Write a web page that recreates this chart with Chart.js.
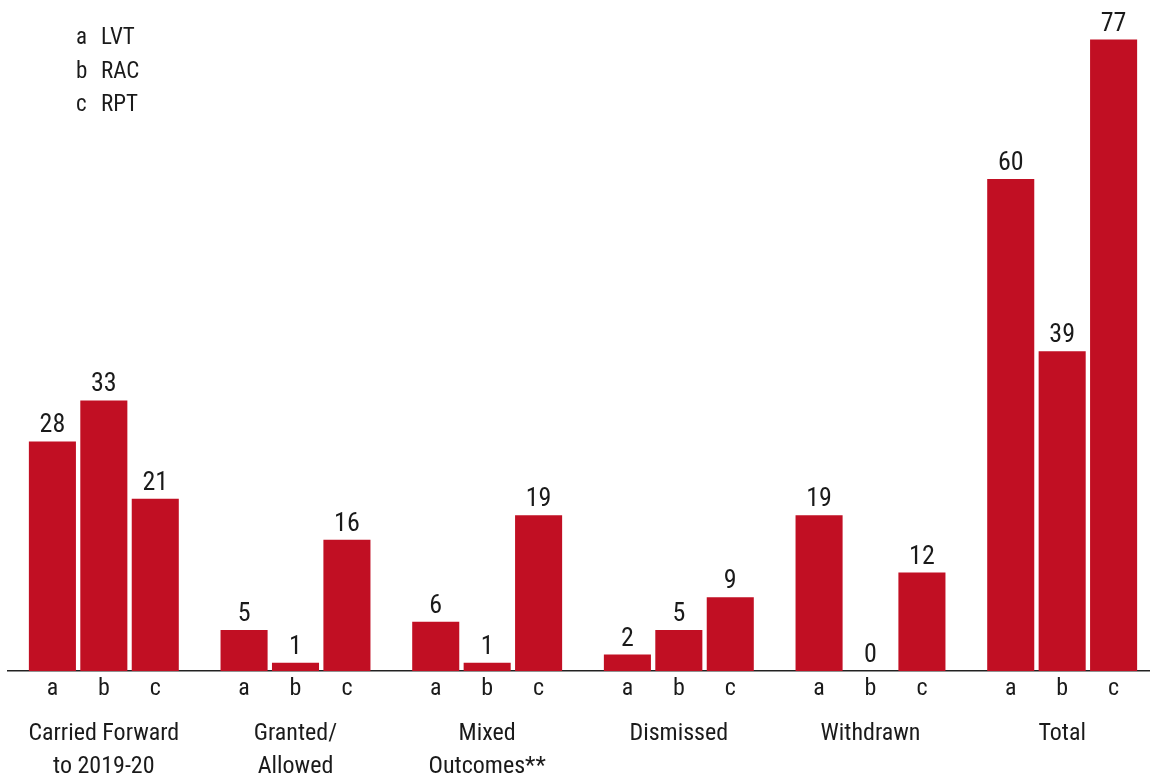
<!DOCTYPE html>
<html>
<head>
<meta charset="utf-8">
<script src="https://cdn.jsdelivr.net/npm/chart.js@4"></script>
<style>
  html, body { margin: 0; padding: 0; background: #fff; }
  #wrap { width: 1150px; height: 781px; position: relative; }
</style>
</head>
<body>
<div id="wrap"><canvas id="casesChart"></canvas></div>
<script>
const categories = [['Carried Forward', 'to 2019-20'], ['Granted/', 'Allowed'], ['Mixed', 'Outcomes**'], 'Dismissed', 'Withdrawn', 'Total'];
const seriesKeys = ['a', 'b', 'c'];
const seriesNames = ['LVT', 'RAC', 'RPT'];
const lvtValues = [28, 5, 6, 2, 19, 60];
const racValues = [33, 1, 1, 5, 0, 39];
const rptValues = [21, 16, 19, 9, 12, 77];

const FONT = '"Roboto Condensed", "DejaVu Sans Condensed", sans-serif';
const INK = '#1a1a1a';
const RED = '#c10f23';

// the x axis in the original runs a little past the right edge of the page
const widenX = {
    id: 'widenX',
    afterLayout(chart) {
        const x = chart.scales.x;
        x.right = chart.width + 8;
        x.width = x.right - x.left;
        x.configure();
    }
};

const barLabels = {
    id: 'barLabels',
    afterDatasetsDraw(chart) {
        const { ctx } = chart;
        const axisY = chart.scales.y.getPixelForValue(0);
        ctx.save();
        ctx.fillStyle = INK;
        ctx.textAlign = 'center';
        ctx.textBaseline = 'alphabetic';
        chart.data.datasets.forEach((ds, i) => {
            chart.getDatasetMeta(i).data.forEach((bar, j) => {
                ctx.font = '26px ' + FONT;
                ctx.fillText(String(ds.data[j]), bar.x, bar.y - 9);
                ctx.font = '24px ' + FONT;
                ctx.fillText(seriesKeys[i], bar.x, axisY + 24);
            });
        });
        ctx.restore();
    }
};

const keyLegend = {
    id: 'keyLegend',
    afterDraw(chart) {
        const { ctx } = chart;
        ctx.save();
        ctx.fillStyle = INK;
        ctx.font = '23px ' + FONT;
        ctx.textBaseline = 'alphabetic';
        ctx.textAlign = 'left';
        seriesNames.forEach((name, i) => {
            const y = 44 + i * 33.7;
            ctx.fillText(seriesKeys[i], 76, y);
            ctx.fillText(name, 101, y);
        });
        ctx.restore();
    }
};

new Chart(document.getElementById('casesChart'), {
    type: 'bar',
    data: {
        labels: categories,
        datasets: [
            { label: seriesNames[0], data: lvtValues },
            { label: seriesNames[1], data: racValues },
            { label: seriesNames[2], data: rptValues }
        ].map(d => Object.assign(d, {
            backgroundColor: RED,
            categoryPercentage: 0.805,
            barPercentage: 0.915,
            clip: false
        }))
    },
    options: {
        responsive: true,
        maintainAspectRatio: false,
        animation: false,
        layout: { padding: { top: 15, left: 8, right: 0, bottom: 0 } },
        plugins: { legend: { display: false }, tooltip: { enabled: false } },
        scales: {
            x: {
                grid: { drawOnChartArea: false, drawTicks: false },
                border: { display: true, color: '#222', width: 1.5 },
                ticks: {
                    color: INK,
                    padding: 46,
                    maxRotation: 0,
                    autoSkip: false,
                    font: { family: FONT, size: 24, lineHeight: 1.4 }
                },
                afterFit(scale) {
                    scale.height = 110;
                    scale.paddingLeft = 0;
                    scale.paddingRight = 0;
                }
            },
            y: { display: false, min: 0, max: 80 }
        }
    },
    plugins: [widenX, barLabels, keyLegend]
});
</script>
</body>
</html>
